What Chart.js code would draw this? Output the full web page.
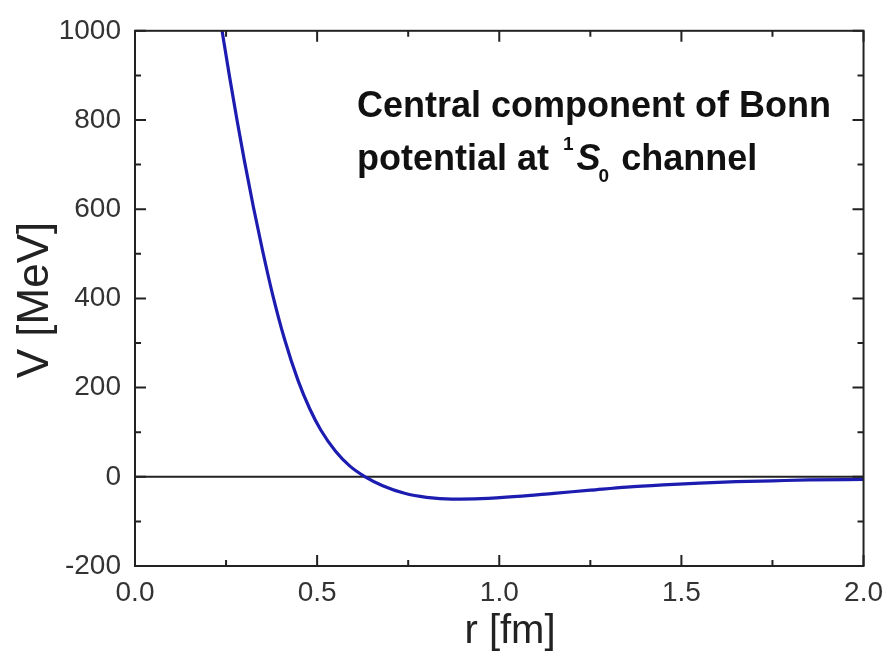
<!DOCTYPE html>
<html>
<head>
<meta charset="utf-8">
<script src="https://cdn.jsdelivr.net/npm/chart.js@4"></script>
<style>
  body { margin: 0; background: #fff; }
  #bonn { display: block; }
</style>
</head>
<body>
<canvas id="bonn" width="893" height="656"></canvas>
<script>
// r in fm, V in MeV
const rValues = [0.239, 0.26, 0.28, 0.30, 0.325, 0.35, 0.378, 0.41, 0.448, 0.48, 0.51, 0.55, 0.59, 0.632,
                 0.68, 0.74, 0.80, 0.87, 0.95, 1.05, 1.15, 1.25, 1.35, 1.45, 1.55, 1.65, 1.75, 1.85, 2.0];
const vValues = [1000, 895, 800, 710, 605, 508, 408, 310, 215, 152, 105, 58, 24, 0,
                 -20, -37, -46, -50, -49, -44, -37, -30, -23, -18, -14, -11, -9, -7, -6];
const zeroLine = [0, 0];
const zeroRange = [0, 2];
const xTicks = [0, 0.5, 1.0, 1.5, 2.0];
const xMinorTicks = [0.25, 0.75, 1.25, 1.75];
const yTicks = [-200, 0, 200, 400, 600, 800, 1000];
const yMinorTicks = [-100, 100, 300, 500, 700, 900];

const curvePts = rValues.map((r, i) => ({ x: r, y: vValues[i] }));
const zeroPts = zeroRange.map((r, i) => ({ x: r, y: zeroLine[i] }));

const FONT = "'Liberation Sans', Arial, sans-serif";

// box + inward ticks on all four sides, axis titles and the label
const framePlugin = {
    id: 'frame',
    afterDatasetsDraw(chart) {
        const c = chart.ctx;
        const a = chart.chartArea;
        const xs = chart.scales.x, ys = chart.scales.y;
        c.save();
        c.strokeStyle = '#222';
        c.lineWidth = 2;
        c.strokeRect(a.left, a.top, a.right - a.left, a.bottom - a.top);

        function tickX(v, len) {
            const px = xs.getPixelForValue(v);
            c.beginPath();
            c.moveTo(px, a.bottom); c.lineTo(px, a.bottom - len);
            c.moveTo(px, a.top); c.lineTo(px, a.top + len);
            c.stroke();
        }
        function tickY(v, len) {
            const py = ys.getPixelForValue(v);
            c.beginPath();
            c.moveTo(a.left, py); c.lineTo(a.left + len, py);
            c.moveTo(a.right, py); c.lineTo(a.right - len, py);
            c.stroke();
        }
        xTicks.forEach(v => tickX(v, 11));
        xMinorTicks.forEach(v => tickX(v, 6));
        yTicks.forEach(v => tickY(v, 11));
        yMinorTicks.forEach(v => tickY(v, 6));

        // axis titles
        c.fillStyle = '#222';
        c.font = '40px ' + FONT;
        c.textAlign = 'center';
        c.textBaseline = 'alphabetic';
        c.fillText('r [fm]', 510, 643);
        c.save();
        c.translate(48, 300);
        c.rotate(-Math.PI / 2);
        c.font = '44px ' + FONT;
        c.fillText('V [MeV]', 0, 0);
        c.restore();

        // label inside the plot
        c.fillStyle = '#111';
        c.textAlign = 'left';
        c.font = 'bold 36px ' + FONT;
        c.fillText('Central component of Bonn', 357, 117);
        let x = 357;
        const y2 = 170;
        c.fillText('potential at ', x, y2);
        x += c.measureText('potential at ').width + 4;
        c.font = 'bold 19px ' + FONT;
        c.fillText('1', x, y2 - 20);
        x += c.measureText('1').width + 3;
        c.font = 'italic bold 36px ' + FONT;
        c.fillText('S', x, y2);
        x += c.measureText('S').width - 2;
        c.font = 'bold 19px ' + FONT;
        c.fillText('0', x, y2 + 12);
        x += c.measureText('0').width + 2;
        c.font = 'bold 36px ' + FONT;
        c.fillText(' channel', x, y2);
        c.restore();
    }
};

new Chart(document.getElementById('bonn'), {
    type: 'scatter',
    data: {
        datasets: [{
            data: curvePts,
            showLine: true,
            borderColor: '#1c1cb0',
            borderWidth: 3.2,
            pointRadius: 0,
            cubicInterpolationMode: 'monotone'
        }, {
            data: zeroPts,
            showLine: true,
            borderColor: '#222',
            borderWidth: 2,
            pointRadius: 0
        }]
    },
    options: {
        responsive: false,
        animation: false,
        layout: { padding: { top: 23, right: 23, left: 0, bottom: 0 } },
        plugins: {
            legend: { display: false },
            tooltip: { enabled: false }
        },
        scales: {
            x: {
                type: 'linear',
                min: 0,
                max: 2,
                afterFit: s => { s.height = 90; },
                afterBuildTicks: s => { s.ticks = xTicks.map(v => ({ value: v })); },
                grid: { display: false, drawTicks: false },
                border: { display: false },
                ticks: {
                    color: '#333',
                    padding: 10,
                    maxRotation: 0,
                    font: { family: FONT, size: 28 },
                    callback: v => v.toFixed(1)
                }
            },
            y: {
                min: -200,
                max: 1000,
                afterFit: s => { s.width = 135; },
                afterBuildTicks: s => { s.ticks = yTicks.map(v => ({ value: v })); },
                grid: { display: false, drawTicks: false },
                border: { display: false },
                ticks: {
                    color: '#333',
                    padding: 14,
                    font: { family: FONT, size: 28 },
                    callback: v => String(v)
                }
            }
        }
    },
    plugins: [framePlugin]
});
</script>
</body>
</html>
